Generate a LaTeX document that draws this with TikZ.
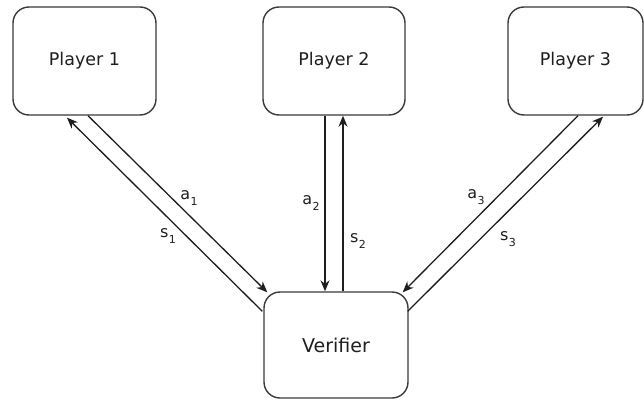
\documentclass[tikz,border=0pt]{standalone}
\usepackage{fontspec}
\setmainfont{DejaVu Sans}
\usetikzlibrary{arrows.meta,calc}
\definecolor{boxline}{HTML}{3A3A3A}
\definecolor{ink}{HTML}{1E1E1E}
\newcommand{\lbl}[2]{#1\kern0.5pt\raisebox{-6pt}{\fontsize{11}{11}\selectfont #2}}
\tikzset{
  player/.style={draw=boxline, line width=1.4pt, rounded corners=16pt, fill=white,
    text=ink, font=\fontsize{17.5}{19}\selectfont, inner sep=0pt},
  arr/.style={draw=ink, line width=1.3pt, -{Stealth[length=11pt,width=9pt]}},
  lab/.style={text=ink, font=\fontsize{16}{18}\selectfont, inner sep=0pt}
}
\begin{document}
\begin{tikzpicture}[x=1pt,y=1pt]
\useasboundingbox (0,0) rectangle (644,-401);
\node[player, minimum width=143pt, minimum height=108pt] (p1) at (84.5,-61) {Player 1};
\node[player, minimum width=142pt, minimum height=108pt] (p2) at (334,-61) {Player 2};
\node[player, minimum width=135pt, minimum height=108pt] (p3) at (575.5,-61) {Player 3};
\node[player, minimum width=144pt, minimum height=106pt, font=\fontsize{19}{21}\selectfont] (v) at (336,-345) {Verifier};
% Player 1 <-> Verifier
\draw[arr] ([xshift=3.5pt]p1.south) -- ([shift={(4pt,-1pt)}]v.north west);
\draw[arr] ([shift={(-1pt,-20pt)}]v.north west) -- ([shift={(-17.5pt,-2pt)}]p1.south);
% Player 2 <-> Verifier
\coordinate (a2s) at ([xshift=-9pt]p2.south);
\coordinate (s2e) at ([xshift=9pt]p2.south);
\draw[arr] (a2s) -- (a2s |- v.north);
\draw[arr] (s2e |- v.north) -- (s2e);
% Player 3 <-> Verifier
\draw[arr] ([xshift=2.5pt]p3.south) -- ([shift={(-6pt,-1pt)}]v.north east);
\draw[arr] ([shift={(-1pt,-20pt)}]v.north east) -- ([shift={(27.5pt,-1pt)}]p3.south);
% labels
\node[lab] (la1) at (189,-198) {\lbl{a}{1}};
\node[lab] (ls1) at (168,-236) {\lbl{s}{1}};
\node[lab] (la2) at (311,-203) {\lbl{a}{2}};
\node[lab] (ls2) at (358,-241) {\lbl{s}{2}};
\node[lab] (la3) at (476,-197) {\lbl{a}{3}};
\node[lab] (ls3) at (508,-239) {\lbl{s}{3}};
\end{tikzpicture}
\end{document}
